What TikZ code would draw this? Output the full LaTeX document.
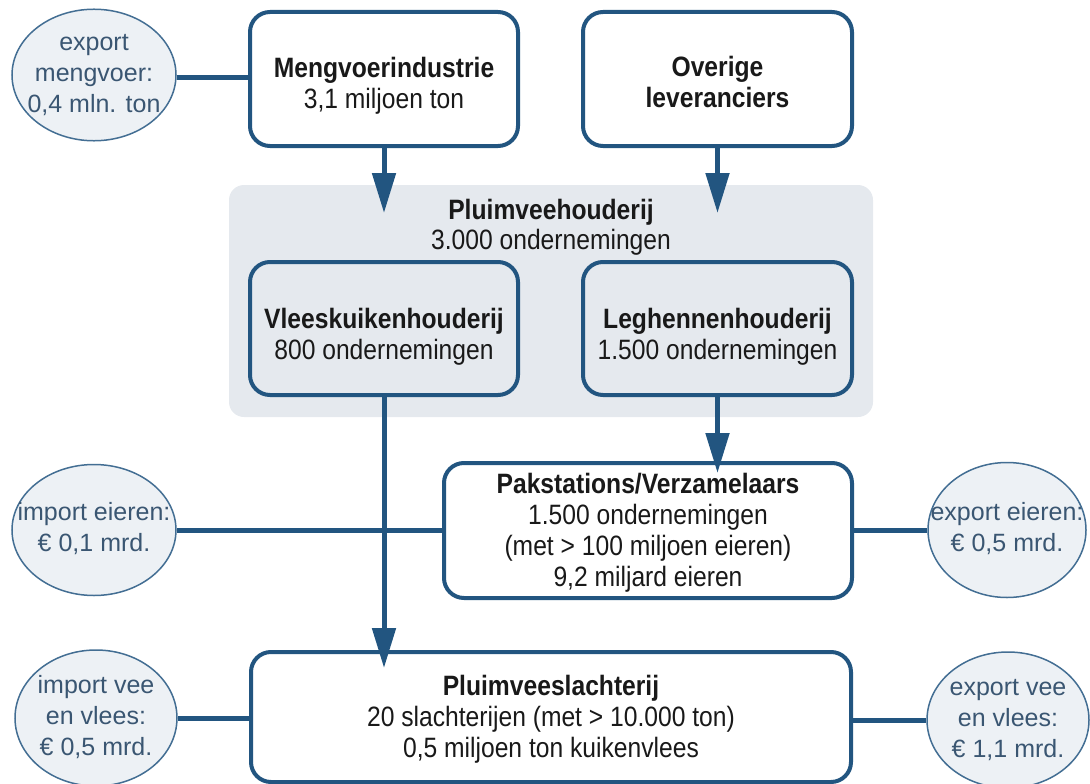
\documentclass[tikz,border=0pt]{standalone}
\usepackage{fontspec}
\setmainfont{Liberation Sans}[FakeStretch=0.88]
\newfontfamily\ellfont{Liberation Sans}
\usetikzlibrary{arrows.meta,shapes.geometric}
\definecolor{lineblue}{RGB}{34,85,128}
\definecolor{bggrey}{RGB}{229,233,238}
\definecolor{ellfill}{RGB}{237,241,245}
\definecolor{elltext}{RGB}{58,86,114}
\definecolor{boxtext}{RGB}{25,25,25}
\newcommand\elltxt[1]{\makebox[0pt]{\begin{tabular}{@{}c@{}}#1\end{tabular}}}
\newcommand\lift[1]{\rule{0pt}{#1pt}}
\begin{document}
\begin{tikzpicture}[x=1pt,y=-1pt,
  box/.style={draw=lineblue, line width=4pt, rounded corners=20pt, fill=white, align=center, inner sep=0pt, font=\fontsize{28}{31}\selectfont, text=boxtext},
  innerbox/.style={box, fill=none},
  ell/.style={ellipse, draw=lineblue!85, line width=1.5pt, fill=ellfill, inner sep=0pt, text=elltext, font=\ellfont\fontsize{25}{31}\selectfont},
  conn/.style={draw=lineblue, line width=5pt},
  arr/.style={conn, -{Triangle[length=40pt,width=23pt]}},
]
\useasboundingbox (0,0) rectangle (1090,784);

% grey background
\node[fill=bggrey, rounded corners=15pt, minimum width=644pt, minimum height=232pt, inner sep=0pt] (bg) at (551,301) {};
\node[align=center, font=\fontsize{28}{30}\selectfont, text=boxtext, inner sep=0pt] (pv) at (551,227) {\textbf{Pluimveehouderij}\\3.000 ondernemingen};

% boxes
\node[box, minimum width=268pt, minimum height=134pt] (mv) at (384,79) {\lift{33}\textbf{Mengvoerindustrie}\\3,1 miljoen ton};
\node[box, minimum width=269pt, minimum height=134pt] (ov) at (717.5,79) {\lift{27}\textbf{Overige}\\\textbf{leveranciers}};
\node[innerbox, minimum width=268pt, minimum height=133pt] (vk) at (384,328.5) {\lift{36}\textbf{Vleeskuikenhouderij}\\800 ondernemingen};
\node[innerbox, minimum width=269pt, minimum height=133pt] (lh) at (717.5,328.5) {\lift{36}\textbf{Leghennenhouderij}\\1.500 ondernemingen};
\node[box, minimum width=408pt, minimum height=135pt] (pak) at (648,530.5) {\lift{24}\textbf{Pakstations/Verzamelaars}\\1.500 ondernemingen\\(met > 100 miljoen eieren)\\9,2 miljard eieren};
\node[box, minimum width=600pt, minimum height=130pt] (sl) at (551,717) {\lift{24}\textbf{Pluimveeslachterij}\\20 slachterijen (met > 10.000 ton)\\0,5 miljoen ton kuikenvlees};

% ellipses
\node[ell, minimum width=164pt, minimum height=128pt] (e1) at (94,75) {\elltxt{export\\mengvoer:\\0,4 mln. ton}};
\node[ell, minimum width=164pt, minimum height=131pt] (e2) at (94,530) {\elltxt{import eieren:\\€ 0,1 mrd.}};
\node[ell, minimum width=158pt, minimum height=135pt] (e3) at (1007,530) {\elltxt{export eieren:\\€ 0,5 mrd.}};
\node[ell, minimum width=162pt, minimum height=136pt] (e4) at (96,718) {\elltxt{import vee\\en vlees:\\€ 0,5 mrd.}};
\node[ell, minimum width=162pt, minimum height=136pt] (e5) at (1008,720) {\elltxt{export vee\\en vlees:\\€ 1,1 mrd.}};

% arrow tips
\coordinate (t1) at (384,213);
\coordinate (t2) at (717.5,213);
\coordinate (t3) at (384,668);
\coordinate (t4) at (717.5,473);

% connectors
\draw[arr] (mv.south) -- (t1);
\draw[arr] (ov.south) -- (t2);
\draw[arr] (vk.south) -- (t3);
\draw[arr] (lh.south) -- (t4);
\draw[conn] (e1.east |- 0,78) -- (mv.west |- 0,78);
\draw[conn] (e2.east) -- (e2.east -| pak.west);
\draw[conn] (e3.west) -- (e3.west -| pak.east);
\draw[conn] (e4.east) -- (e4.east -| sl.west);
\draw[conn] (e5.west) -- (e5.west -| sl.east);
\end{tikzpicture}
\end{document}
